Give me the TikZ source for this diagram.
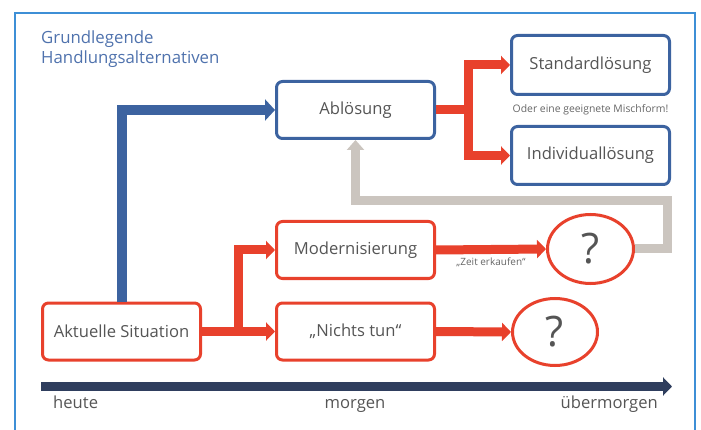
\documentclass[tikz,border=0pt]{standalone}
\usepackage{fontspec}
\setmainfont{Open Sans}
\usetikzlibrary{arrows.meta,positioning,shapes.geometric}
\definecolor{rahmenblau}{HTML}{3D8FD6}
\definecolor{boxblau}{HTML}{3C63A0}
\definecolor{titelblau}{HTML}{4F72AD}
\definecolor{boxrot}{HTML}{E8412C}
\definecolor{pfeilgrau}{HTML}{CBC5BF}
\definecolor{zeitblau}{HTML}{2F3E5E}
\definecolor{textgrau}{HTML}{555555}
\tikzset{
    %Define style for boxes
    bluebox/.style={
           rectangle,
           rounded corners=6pt,
           draw=boxblau, line width=3pt,
           fill=white,
           minimum width=158pt,
           minimum height=57pt,
           inner sep=0pt,
           font=\fontsize{16.6}{19}\selectfont,
           text=textgrau,
           text centered},
    redbox/.style={
           bluebox,
           draw=boxrot},
    result/.style={
           ellipse,
           draw=boxrot, line width=3pt,
           fill=white,
           minimum width=86pt,
           minimum height=69pt,
           inner sep=0pt,
           font=\fontsize{42}{46}\selectfont,
           text=textgrau},
    small/.style={
           font=\fontsize{10}{12}\selectfont,
           text=textgrau!90,
           inner sep=0pt},
    label/.style={
           font=\fontsize{16.6}{19}\selectfont,
           text=textgrau,
           inner sep=0pt},
    % Define arrow styles
    redpil/.style={
           draw=boxrot, line width=9pt,
           -{Triangle[length=9pt,width=18pt]}},
    bluepil/.style={
           draw=boxblau, line width=10pt,
           -{Triangle[length=10pt,width=21pt]}},
    greypil/.style={
           draw=pfeilgrau, line width=9pt,
           -{Triangle[length=10pt,width=17pt]}},
    zeitpil/.style={
           draw=zeitblau, line width=9pt,
           -{Triangle[length=9pt,width=18pt]}}
}
\begin{document}
\begin{tikzpicture}[x=1pt,y=-1pt]
\useasboundingbox (0,0) rectangle (701,430);
% frame
\draw[rahmenblau, line width=1.6pt] (15,13) rectangle (695,445);
\node[anchor=north west, align=left, inner sep=0pt, text=titelblau,
  font=\fontsize{16.8}{20}\selectfont] (titel) at (41,31)
  {Grundlegende\\Handlungsalternativen};
 %nodes
\node[bluebox] (abl) at (355.5,110) {Ablösung};
\node[bluebox, minimum height=59pt] (std) at (590.5,65) {Standardlösung};
\node[bluebox, minimum height=58pt] (ind) at (590.5,155.5) {Individuallösung};
\node[small, font=\fontsize{10.4}{12}\selectfont] (misch) at (590.5,110) {Oder eine geeignete Mischform!};
\node[redbox] (akt) at (121.5,331.5) {Aktuelle Situation};
\node[redbox] (mod) at (355.5,250) {Modernisierung};
\node[redbox] (nichts) at (355.5,331.5) {„Nichts tun“};
\node[result] (q1) at (590.5,249) {?};
\node[result, minimum width=85pt, minimum height=67pt] (q2) at (555,332) {?};
\coordinate (split1) at (468,110);
\coordinate (split2) at (238,331.5);
\coordinate (loop) at (667,201);
\coordinate (tl0) at (41,386.5);
\coordinate (tl1) at (672,386.5);
 %connectors
\draw[bluepil] (akt.north) |- (abl.west);
\draw[redpil] (abl.east) -- (split1) |- (std.west);
\draw[redpil] (abl.east) -- (split1) |- (ind.west);
\draw[redpil] (akt.east) -- (split2) |- (mod.west);
\draw[redpil] (akt.east) -- (nichts.west);
\draw[redpil] (mod.east) -- (q1.west);
\draw[redpil] (nichts.east) -- (q2.west);
\draw[greypil] (q1.east) -| (loop) -| (abl.south);
\node[small, anchor=north] (zeit) at (491,258) {„Zeit erkaufen“};
 %timeline
\draw[zeitpil] (tl0) -- (tl1);
\node[label, anchor=base west] (heute) at (53,408) {heute};
\node[label, anchor=base] (morgen) at (355,408) {morgen};
\node[label, anchor=base east] (ueber) at (658,408) {übermorgen};
\end{tikzpicture}
\end{document}
